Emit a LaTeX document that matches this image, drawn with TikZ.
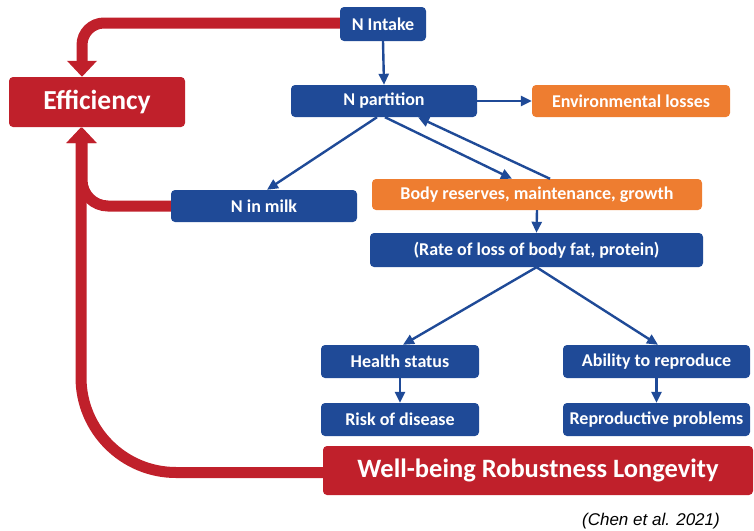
\documentclass[tikz,border=0pt]{standalone}
\usepackage{fontspec}
\setmainfont{Carlito}
\newfontfamily\citefont{Liberation Sans}
\usetikzlibrary{arrows.meta,calc}
\definecolor{nblue}{HTML}{1F4A97}
\definecolor{norange}{HTML}{EE7D30}
\definecolor{nred}{HTML}{C0202B}
\tikzset{
  box/.style={rounded corners=4pt, text=white, font=\bfseries\fontsize{18}{20}\selectfont, inner sep=0pt, align=center},
  bluebox/.style={box, fill=nblue},
  orangebox/.style={box, fill=norange},
  redbox/.style={box, fill=nred},
  bluearrow/.style={draw=nblue, line width=2.4pt, -{Triangle[width=10pt,length=11pt]}},
  redarrow/.style={draw=nred, line width=11pt, -{Triangle[width=29pt,length=16pt]}},
}
\begin{document}
\begin{tikzpicture}[x=1pt,y=-1pt]
\useasboundingbox (0,0) rectangle (754,530);
% nodes
\node[bluebox, minimum width=86pt, minimum height=34pt] (intake) at (383,24) {N Intake};
\node[redbox, minimum width=176pt, minimum height=50pt, font=\bfseries\fontsize{27.5}{30}\selectfont] (eff) at (97,102) {Efficiency};
\node[bluebox, minimum width=186pt, minimum height=32pt] (part) at (384,101) {N partition};
\node[orangebox, minimum width=198pt, minimum height=32pt] (env) at (631,101) {Environmental losses};
\node[bluebox, minimum width=186pt, minimum height=32pt] (milk) at (264,206) {N in milk};
\node[orangebox, minimum width=330pt, minimum height=31pt] (body) at (537,194.5) {Body reserves, maintenance, growth};
\node[bluebox, minimum width=333pt, minimum height=34pt] (rate) at (536.5,250) {(Rate of loss of body fat, protein)};
\node[bluebox, minimum width=158pt, minimum height=33pt] (health) at (400,361.5) {Health status};
\node[bluebox, minimum width=158pt, minimum height=33pt] (risk) at (400,419.5) {Risk of disease};
\node[bluebox, minimum width=187pt, minimum height=33pt] (abil) at (656.5,361.5) {Ability to reproduce};
\node[bluebox, minimum width=187pt, minimum height=33pt] (repro) at (656.5,419.5) {Reproductive problems};
\node[redbox, minimum width=430pt, minimum height=49pt, font=\bfseries\fontsize{26.5}{30}\selectfont] (well) at (538,470.5) {Well-being Robustness Longevity};
\node[anchor=east, inner sep=0pt, font=\citefont\itshape\fontsize{17}{20}\selectfont] (cite) at (720,521) {(Chen et al. 2021)};
% red arrows
\draw[redarrow, rounded corners=22pt] ([yshift=1pt]intake.west) -| ([xshift=-15pt]eff.north);
\draw[redarrow, rounded corners=95pt] ([yshift=-2pt]well.west) -| ([xshift=-16pt]eff.south);
\draw[redarrow, rounded corners=26pt] (milk.west) -| ([xshift=-15pt]eff.south);
% blue arrows
\draw[bluearrow] (intake.south) -- (part.north);
\draw[bluearrow] (part.east) -- (env.west);
\draw[bluearrow] ([xshift=1pt]part.south) -- ([xshift=-25pt]body.north);
\draw[bluearrow] ([xshift=13pt]body.north) -- ([xshift=34pt]part.south);
\draw[bluearrow] ([xshift=-7pt]part.south) -- ([xshift=3pt]milk.north);
\draw[bluearrow] (body.south) -- (rate.north);
\draw[bluearrow] (rate.south) -- ([xshift=3pt]health.north);
\draw[bluearrow] (rate.south) -- ([xshift=1.5pt]abil.north);
\draw[bluearrow] (health.south) -- (risk.north);
\draw[bluearrow] (abil.south) -- (repro.north);
\end{tikzpicture}
\end{document}
